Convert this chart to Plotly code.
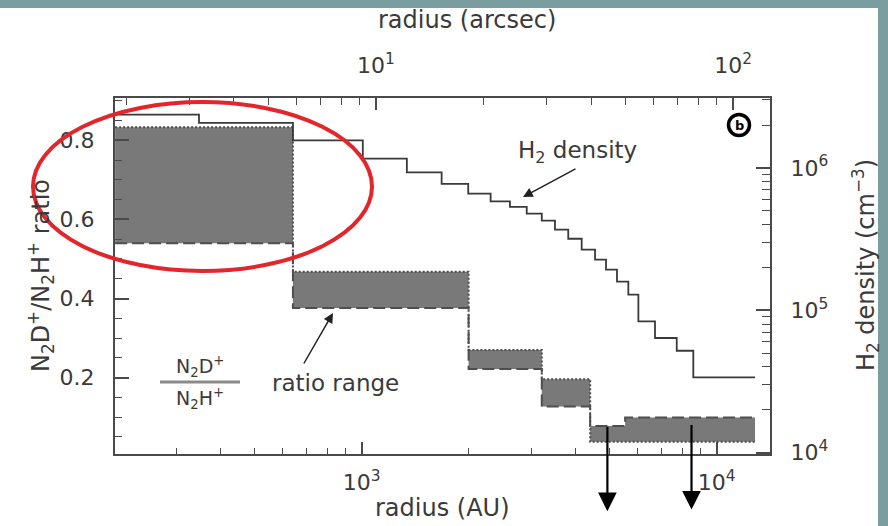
import numpy as np
import plotly.graph_objects as go

# ---- H2 density model (step profile): shell edges in AU, density in cm^-3
h2_edges_au = [202, 348, 640, 1007, 1340, 1679, 1995, 2307, 2615, 2916, 3215,
               3502, 3817, 4164, 4541, 4876, 5236, 5636, 6015, 6700, 7714,
               8590, 12820]
h2_density = [2.37e6, 2.07e6, 1.56e6, 1.163e6, 9.31e5, 7.72e5, 6.60e5, 5.83e5,
              5.32e5, 4.77e5, 4.26e5, 3.69e5, 3.18e5, 2.67e5, 2.27e5, 1.93e5,
              1.59e5, 1.29e5, 8.36e4, 6.39e4, 5.20e4, 3.38e4]

# ---- N2D+/N2H+ ratio range per annulus (two estimates: dotted and dashed)
ratio_edges_au = [202, 640, 2000, 3215, 4400, 5520, 12820]
ratio_dotted = [0.833, 0.468, 0.270, 0.196, 0.038, 0.038]
ratio_dashed = [0.540, 0.376, 0.222, 0.127, 0.078, 0.099]

# ---- upper limits
limit_radius_au = [4920, 8490]
limit_ratio = [0.076, 0.080]

# ---- tick definitions
au_major = [1e3, 1e4]
au_major_text = ["10<sup>3</sup>", "10<sup>4</sup>"]
au_minor = [300, 400, 500, 600, 700, 800, 900,
            2000, 3000, 4000, 5000, 6000, 7000, 8000, 9000]
arcsec_major = [10, 100]
arcsec_major_text = ["10<sup>1</sup>", "10<sup>2</sup>"]
arcsec_minor = [2, 3, 4, 5, 6, 7, 8, 9, 20, 30, 40, 50, 60, 70, 80, 90]
ratio_major = [0.2, 0.4, 0.6, 0.8]
ratio_major_text = ["0.2", "0.4", "0.6", "0.8"]
ratio_minor = [0.05, 0.1, 0.15, 0.25, 0.3, 0.35, 0.45, 0.5, 0.55, 0.65, 0.7,
               0.75, 0.85, 0.9]
dens_major = [1e4, 1e5, 1e6]
dens_major_text = ["10<sup>4</sup>", "10<sup>5</sup>", "10<sup>6</sup>"]
dens_minor = [2e4, 3e4, 4e4, 5e4, 6e4, 7e4, 8e4, 9e4,
              2e5, 3e5, 4e5, 5e5, 6e5, 7e5, 8e5, 9e5, 2e6, 3e6]

W, H = 888, 526
ML, MR, MT, MB = 115, 118, 98, 72
PW, PH = W - ML - MR, H - MT - MB
FONT = "DejaVu Sans"
INK = "#3a3a3a"
AXC = "#4a4a4a"
BAND_LINE = "#4e4e4e"


def px(x):
    return (x - ML) / PW


def py(y):
    return (H - MB - y) / PH


def steps(values):
    return list(values) + [values[-1]]


fig = go.Figure()

# grey band between the two ratio estimates
fig.add_trace(go.Scatter(x=ratio_edges_au, y=steps(ratio_dashed), mode="lines",
                         line=dict(width=0, shape="hv"), showlegend=False,
                         hoverinfo="skip"))
fig.add_trace(go.Scatter(x=ratio_edges_au, y=steps(ratio_dotted), mode="lines",
                         line=dict(width=0, shape="hv"), fill="tonexty",
                         fillcolor="#797979", showlegend=False,
                         hoverinfo="skip"))
fig.add_trace(go.Scatter(x=ratio_edges_au, y=steps(ratio_dashed), mode="lines",
                         line=dict(width=2, shape="hv", dash="12px,5px",
                                   color=BAND_LINE),
                         showlegend=False, hoverinfo="skip"))
fig.add_trace(go.Scatter(x=ratio_edges_au, y=steps(ratio_dotted), mode="lines",
                         line=dict(width=2, shape="hv", dash="2px,2px",
                                   color=BAND_LINE),
                         showlegend=False, hoverinfo="skip"))

# H2 density staircase on the right-hand axis
fig.add_trace(go.Scatter(x=h2_edges_au, y=steps(h2_density), mode="lines",
                         line=dict(width=1.8, shape="hv", color="#3a3a3a"),
                         yaxis="y2", showlegend=False, hoverinfo="skip"))

# holder trace for the arcsec axis
fig.add_trace(go.Scatter(x=[10, 100], y=[None, None], xaxis="x2",
                         showlegend=False, hoverinfo="skip"))

tickfont = dict(family=FONT, size=22, color=INK)
common = dict(showgrid=False, zeroline=False, showline=True, linecolor=AXC,
              linewidth=2, ticks="inside", tickcolor=AXC, tickwidth=1.5,
              tickfont=tickfont)

fig.update_layout(
    width=W, height=H,
    margin=dict(l=ML, r=MR, t=MT, b=MB, pad=0),
    paper_bgcolor="#7a9ea0",
    plot_bgcolor="white",
    xaxis=dict(type="log", range=[2.305, 4.150], tickmode="array",
               tickvals=au_major, ticktext=au_major_text, ticklen=12,
               ticklabelstandoff=8,
               minor=dict(tickvals=au_minor, ticks="inside", ticklen=6,
                          tickcolor=AXC, tickwidth=1.2),
               **common),
    xaxis2=dict(type="log", range=[0.2695, 2.103], overlaying="x", side="top",
                anchor="y", tickmode="array", tickvals=arcsec_major,
                ticktext=arcsec_major_text, ticklen=12, ticklabelstandoff=14,
                minor=dict(tickvals=arcsec_minor, ticks="inside", ticklen=7,
                           tickcolor=AXC, tickwidth=1.2),
                **common),
    yaxis=dict(range=[0.007, 0.907], tickmode="array", tickvals=ratio_major,
               ticktext=ratio_major_text, ticklen=14, ticklabelstandoff=14,
               minor=dict(tickvals=ratio_minor, ticks="inside", ticklen=7,
                          tickcolor=AXC, tickwidth=1.2),
               **common),
    yaxis2=dict(type="log", range=[3.991, 6.491], overlaying="y", side="right",
                anchor="x", tickmode="array", tickvals=dens_major,
                ticktext=dens_major_text, ticklen=14, ticklabelstandoff=14,
                minor=dict(tickvals=dens_minor, ticks="inside", ticklen=8,
                           tickcolor=AXC, tickwidth=1.2),
                **common),
)

shapes = [
    # white page under the figure
    dict(type="rect", xref="paper", yref="paper", x0=px(0), x1=px(878),
         y0=py(526), y1=py(8), fillcolor="white", line=dict(width=0),
         layer="below"),
    # fraction bar of the N2D+/N2H+ key
    dict(type="line", xref="paper", yref="paper", x0=px(160), x1=px(240),
         y0=py(382), y1=py(382), line=dict(color="#8a8a8a", width=3)),
    # panel label ring
    dict(type="circle", xref="paper", yref="paper", x0=px(728.5),
         x1=px(749.5), y0=py(135.5), y1=py(114.5),
         line=dict(color="black", width=3.5)),
    # red highlight ellipse
    dict(type="circle", xref="paper", yref="paper", x0=px(33), x1=px(372),
         y0=py(271), y1=py(102), line=dict(color="#e3262b", width=4)),
]
fig.update_layout(shapes=shapes)

txt = dict(family=FONT, size=23, color=INK)
title_font = dict(family=FONT, size=24, color=INK)


def label(text, x, y, font=txt, angle=0):
    return dict(text=text, xref="paper", yref="paper", x=px(x), y=py(y),
                xanchor="center", yanchor="middle", showarrow=False,
                font=font, textangle=angle)


def pointer(x, y, ax, ay):
    return dict(text="", xref="paper", yref="paper", x=px(x), y=py(y),
                ax=ax, ay=ay, showarrow=True, arrowhead=2, arrowsize=1.3,
                arrowwidth=1.5, arrowcolor="#222")


small = dict(family=FONT, size=19, color=INK)
ann = [
    label("radius (arcsec)", 467, 20, font=title_font),
    label("radius (AU)", 442, 508, font=title_font),
    label("N<sub>2</sub>D<sup>+</sup>/N<sub>2</sub>H<sup>+</sup> ratio",
          40, 276, font=title_font, angle=-90),
    label("H<sub>2</sub> density (cm<sup>\u22123</sup>)", 865, 265,
          font=title_font, angle=-90),
    label("H<sub>2</sub> density", 577, 152),
    pointer(523, 197, 54, -29),
    label("ratio range", 335, 383),
    pointer(333, 313, -30, 52),
    label("N<sub>2</sub>D<sup>+</sup>", 200, 366, font=small),
    label("N<sub>2</sub>H<sup>+</sup>", 200, 398, font=small),
    label("<b>b</b>", 739, 125, font=dict(family=FONT, size=13,
                                            color="black")),
]
# upper-limit arrows hanging from the ratio values
for r, v in zip(limit_radius_au, limit_ratio):
    ann.append(dict(text="", xref="x", yref="y", x=np.log10(r), y=v,
                    ax=0, ay=86, showarrow=True, arrowside="start",
                    startarrowhead=2, startarrowsize=1.7, arrowwidth=2.2,
                    arrowcolor="black"))
fig.update_layout(annotations=ann)

fig.write_html("out.html")
